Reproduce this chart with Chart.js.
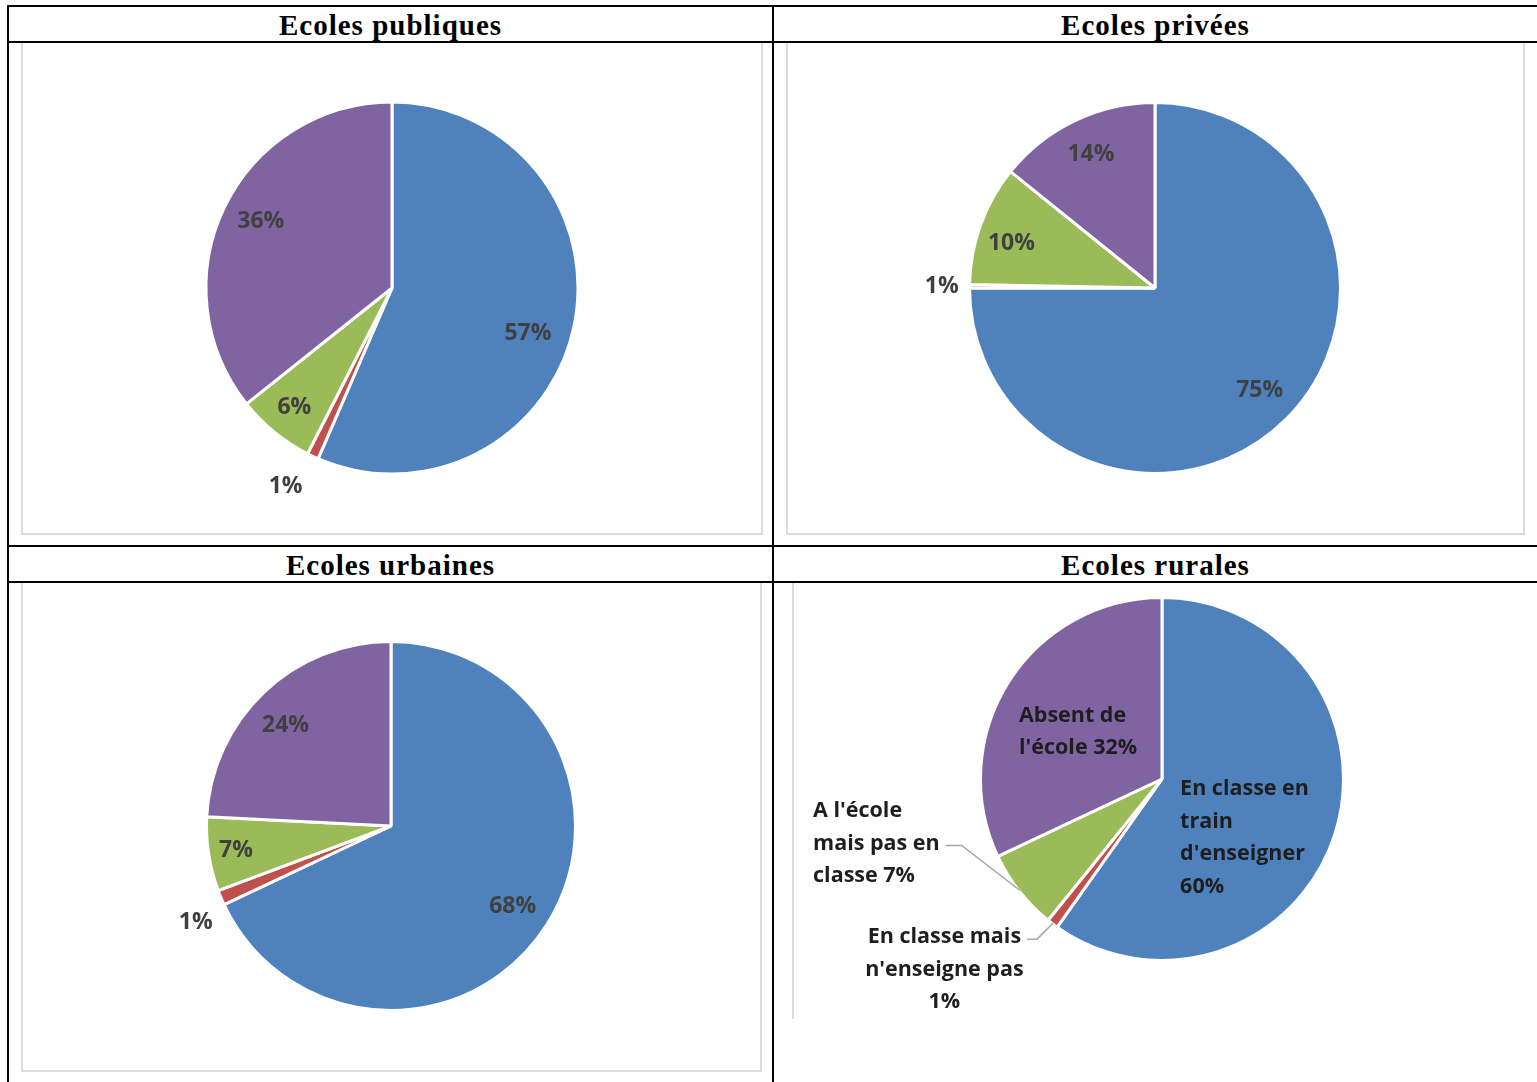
<!DOCTYPE html>
<html lang="fr">
<head>
<meta charset="UTF-8">
<title>Présence des enseignants</title>
<script src="https://cdn.jsdelivr.net/npm/chart.js"></script>
<style>
  body { margin: 0; background: #fff; width: 1537px; height: 1082px; position: relative; overflow: hidden; }
  .ln { position: absolute; background: #000; }
  .box { position: absolute; border: 2px solid #dcdcdc; border-top: none; box-sizing: border-box; }
  .title { position: absolute; height: 34px; line-height: 36px; text-align: center; letter-spacing: 1px;
           font-family: "Liberation Serif", serif; font-weight: bold; font-size: 29px; color: #000; }
  canvas { position: absolute; }
</style>
</head>
<body>
<!-- table lines -->
<div class="ln" style="left:7px;top:5px;width:1530px;height:2px"></div>
<div class="ln" style="left:7px;top:5px;width:2px;height:1077px"></div>
<div class="ln" style="left:772px;top:5px;width:2px;height:1077px"></div>
<div class="ln" style="left:7px;top:41px;width:1530px;height:2px"></div>
<div class="ln" style="left:7px;top:545px;width:1530px;height:2px"></div>
<div class="ln" style="left:7px;top:581px;width:1530px;height:2px"></div>

<div class="title" style="left:9px;top:7px;width:763px">Ecoles publiques</div>
<div class="title" style="left:774px;top:7px;width:763px">Ecoles privées</div>
<div class="title" style="left:9px;top:547px;width:763px">Ecoles urbaines</div>
<div class="title" style="left:774px;top:547px;width:763px">Ecoles rurales</div>

<div class="box" style="left:21px;top:43px;width:742px;height:492px"></div>
<div class="box" style="left:786px;top:43px;width:739px;height:492px"></div>
<div class="box" style="left:21px;top:583px;width:741px;height:489px"></div>
<div style="position:absolute;left:792px;top:583px;width:2px;height:436px;background:#dcdcdc"></div>

<canvas id="cPub" width="740" height="490" style="left:22px;top:43px"></canvas>
<canvas id="cPriv" width="736" height="490" style="left:787px;top:43px"></canvas>
<canvas id="cUrb" width="738" height="486" style="left:22px;top:583px"></canvas>
<canvas id="cRur" width="736" height="480" style="left:794px;top:583px"></canvas>

<script>
// categories (order = clockwise from 12 o'clock)
const categories = ["En classe en train d'enseigner", "En classe mais n'enseigne pas",
                    "A l'école mais pas en classe", "Absent de l'école"];
const colors = ['#4F81BD', '#C0504D', '#9BBB59', '#8064A2'];

const publiques = [56.5, 1, 6.8, 35.7];
const publiquesLabels = ['57%', '1%', '6%', '36%'];
const privees = [75, 0.3, 10.5, 14.2];
const priveesLabels = ['75%', '1%', '10%', '14%'];
const urbaines = [68, 1.3, 6.5, 24.2];
const urbainesLabels = ['68%', '1%', '7%', '24%'];
const rurales = [59.8, 1, 7.2, 32];
const ruralesLabels = [
    ['En classe en', 'train', "d'enseigner", '60%'],
    ['En classe mais', "n'enseigne pas", '1%'],
    ["A l'école", 'mais pas en', 'classe 7%'],
    ['Absent de', "l'école 32%"]
];

// label placement: f = fraction of radius, da = degrees from slice middle
const pctFont = 'bold 23px "Open Sans"';
const rurFont = 'bold 21.5px "Open Sans"';

const sliceLabels = {
    id: 'sliceLabels',
    afterDatasetsDraw(chart, args, opts) {
        const ctx = chart.ctx;
        const arcs = chart.getDatasetMeta(0).data;
        ctx.save();
        ctx.font = opts.font;
        ctx.fillStyle = opts.color;
        ctx.textBaseline = 'middle';
        arcs.forEach((arc, i) => {
            const p = opts.pos[i];
            const R = arc.outerRadius;
            const mid = (arc.startAngle + arc.endAngle) / 2;
            const a = mid + p.da * Math.PI / 180;
            const ax = arc.x + Math.cos(a) * p.f * R;
            const ay = arc.y + Math.sin(a) * p.f * R;
            let lines = opts.labels[i];
            if (!Array.isArray(lines)) lines = [lines];
            const lh = opts.lineHeight;
            const top = ay - (lines.length - 1) * lh / 2;
            ctx.textAlign = p.align || 'center';
            lines.forEach((t, k) => ctx.fillText(t, ax, top + k * lh));
            if (p.leader !== undefined) {
                const k = p.leader;
                const w = ctx.measureText(lines[k]).width;
                const right = (p.align === 'left') ? ax + w : ax + w / 2;
                const ly = top + k * lh + 2;
                ctx.strokeStyle = '#a6a6a6';
                ctx.lineWidth = 1.5;
                ctx.beginPath();
                ctx.moveTo(right + 6, ly);
                ctx.lineTo(right + p.elbow, ly);
                ctx.lineTo(arc.x + Math.cos(mid) * (R - 1), arc.y + Math.sin(mid) * (R - 1));
                ctx.stroke();
            }
        });
        ctx.restore();
    }
};

function makePie(id, values, radius, padding, labelOpts) {
    return new Chart(document.getElementById(id), {
        type: 'pie',
        data: {
            labels: categories,
            datasets: [{
                data: values,
                backgroundColor: colors,
                borderColor: '#ffffff',
                borderWidth: 3,
                radius: radius
            }]
        },
        options: {
            responsive: false,
            animation: false,
            layout: { padding: padding },
            plugins: {
                legend: { display: false },
                tooltip: { enabled: false },
                sliceLabels: labelOpts
            }
        },
        plugins: [sliceLabels]
    });
}

makePie('cPub', publiques, 186, 0, {
    labels: publiquesLabels, font: pctFont, color: '#404040', lineHeight: 26,
    pos: [{ f: 0.77, da: 6.6 }, { f: 1.21, da: 3 }, { f: 0.83, da: 0 }, { f: 0.79, da: 1 }]
});

makePie('cPriv', privees, 185.5, 0, {
    labels: priveesLabels, font: pctFont, color: '#404040', lineHeight: 26,
    pos: [{ f: 0.79, da: -0.6 }, { f: 1.15, da: 0 }, { f: 0.81, da: -2.8 }, { f: 0.80, da: 0 }]
});

makePie('cUrb', urbaines, 184.5, 0, {
    labels: urbainesLabels, font: pctFont, color: '#404040', lineHeight: 26,
    pos: [{ f: 0.79, da: 1 }, { f: 1.18, da: -3.4 }, { f: 0.85, da: 0 }, { f: 0.79, da: -2.8 }]
});

makePie('cRur', rurales, 181.5, { bottom: 88 }, {
    labels: ruralesLabels, font: rurFont, color: '#1e1e1e', lineHeight: 32.5,
    pos: [
        { f: 0.34, da: 55.3, align: 'left' },
        { f: 1.594, da: 11.7, align: 'center', leader: 0, elbow: 16 },
        { f: 1.955, da: 27.7, align: 'left', leader: 1, elbow: 22 },
        { f: 0.83, da: -14.1, align: 'left' }
    ]
});
</script>
</body>
</html>
